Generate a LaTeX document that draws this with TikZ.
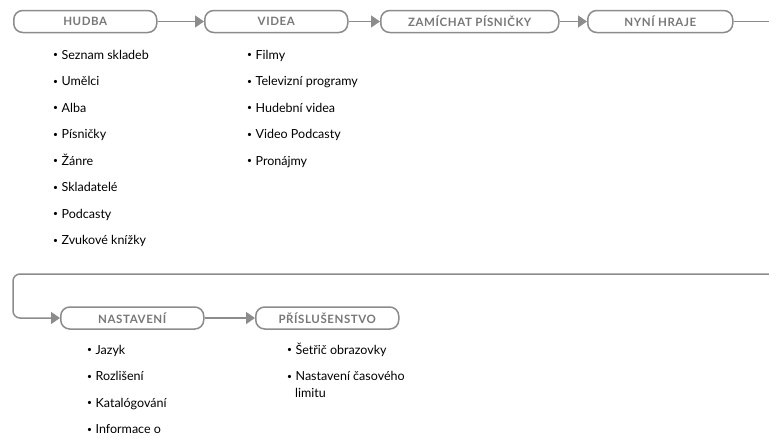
\documentclass[tikz,border=0pt]{standalone}
\usepackage{fontspec}
\setmainfont{Lato}
\usetikzlibrary{arrows.meta}
\definecolor{linegray}{HTML}{8C8C8C}
\definecolor{headgray}{HTML}{777777}
\newcommand\mybullet{\raisebox{1.3pt}{\fontsize{8.5}{8}\selectfont •}\hspace{3.5pt}}
\tikzset{
  menubox/.style={draw=linegray, line width=1.5pt, rounded corners=9pt,
    minimum height=22pt, inner sep=0pt, anchor=west,
    font=\fontsize{11.5}{12}\selectfont\bfseries\addfontfeatures{LetterSpace=5},
    text=headgray},
  conn/.style={draw=linegray, line width=1.5pt, -{Triangle[length=9pt,width=12pt]}},
  plain/.style={draw=linegray, line width=1.5pt},
  item/.style={anchor=base west, inner sep=0pt, font=\fontsize{12.5}{16}\selectfont}
}
\begin{document}
\begin{tikzpicture}[x=1pt,y=-1pt]
\useasboundingbox (0,0) rectangle (769,437);
% top row
\node[menubox, minimum width=143pt] (hudba) at (13,21.5) {HUDBA};
\node[menubox, minimum width=143pt] (videa) at (204,21.5) {VIDEA};
\node[menubox, minimum width=178pt] (zam) at (380,21.5) {ZAMÍCHAT PÍSNIČKY};
\node[menubox, minimum width=145pt] (nyni) at (587,21.5) {NYNÍ HRAJE};
\draw[conn] (hudba.east) -- (videa.west);
\draw[conn] (videa.east) -- (zam.west);
\draw[conn] (zam.east) -- (nyni.west);
\coordinate (outA) at (769,21.5);
\draw[plain] (nyni.east) -- (outA);
% second row
\node[menubox, minimum width=143pt] (nast) at (60,318) {NASTAVENÍ};
\node[menubox, minimum width=143pt] (pris) at (255,318) {PŘÍSLUŠENSTVO};
\coordinate (inB) at (769,274);
\coordinate (cornB) at (13,274);
\coordinate (cornC) at (13,318);
\draw[conn, rounded corners=7pt] (inB) -- (cornB) -- (cornC) -- (nast.west);
\draw[conn] (nast.east) -- (pris.west);
% lists
\node[item] (h1) at (53,59) {\mybullet Seznam skladeb};
\node[item] (h2) at (53,85.5) {\mybullet Umělci};
\node[item] (h3) at (53,112) {\mybullet Alba};
\node[item] (h4) at (53,138.5) {\mybullet Písničky};
\node[item] (h5) at (53,165) {\mybullet Žánre};
\node[item] (h6) at (53,191.5) {\mybullet Skladatelé};
\node[item] (h7) at (53,218) {\mybullet Podcasty};
\node[item] (h8) at (53,244.5) {\mybullet Zvukové knížky};
\node[item] (v1) at (247,59) {\mybullet Filmy};
\node[item] (v2) at (247,85.5) {\mybullet Televizní programy};
\node[item] (v3) at (247,112) {\mybullet Hudební videa};
\node[item] (v4) at (247,138.5) {\mybullet Video Podcasty};
\node[item] (v5) at (247,165) {\mybullet Pronájmy};
\node[item] (n1) at (87,354) {\mybullet Jazyk};
\node[item] (n2) at (87,380.5) {\mybullet Rozlišení};
\node[item] (n3) at (87,407) {\mybullet Katalógování};
\node[item] (n4) at (87,433.5) {\mybullet Informace o};
\node[item] (p1) at (287,354) {\mybullet Šetřič obrazovky};
\node[item] (p2) at (287,380.5) {\mybullet Nastavení časového};
\node[item] (p3) at (295,397) {limitu};
\end{tikzpicture}
\end{document}
